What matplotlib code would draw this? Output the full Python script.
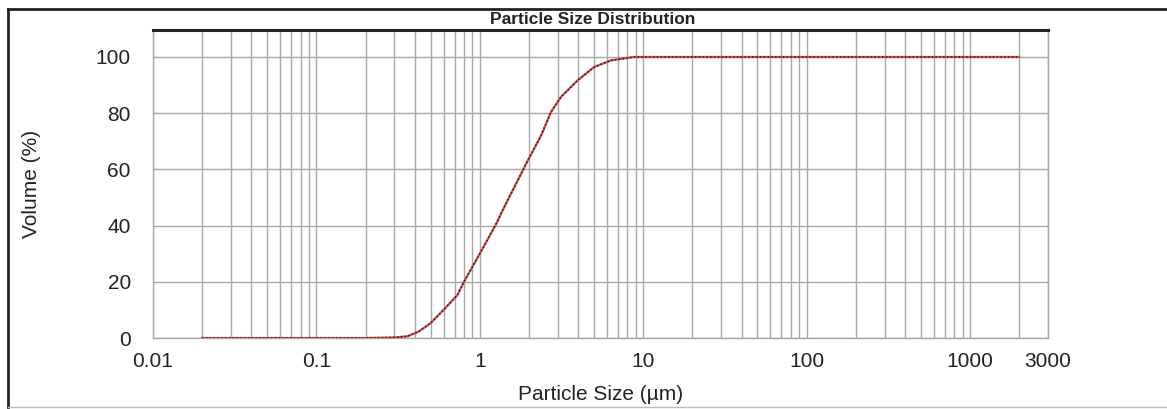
import matplotlib
matplotlib.use("Agg")
import matplotlib.pyplot as plt
from matplotlib.ticker import LogLocator, NullFormatter, FixedLocator, FixedFormatter
from matplotlib.lines import Line2D

# Data
particle_size_um = [0.02, 0.05, 0.1, 0.2, 0.3, 0.36, 0.42, 0.5, 0.6, 0.73, 0.8,
                    1.0, 1.27, 1.38, 1.67, 1.96, 2.37, 2.73, 3.14, 3.97, 5.0,
                    6.36, 8.8, 10, 20, 50, 100, 200, 500, 1000, 2000]
volume_pct = [0, 0, 0, 0, 0.2, 0.6, 2.2, 5.3, 10, 15.3, 20,
              30, 41, 45.5, 55, 63, 72, 80.5, 85.8, 91.7, 96.4,
              98.8, 100, 100, 100, 100, 100, 100, 100, 100, 100]
x_ticks = [0.01, 0.1, 1, 10, 100, 1000, 3000]
x_tick_labels = ["0.01", "0.1", "1", "10", "100", "1000", "3000"]
y_ticks = [0, 20, 40, 60, 80, 100]

plt.rcParams['font.family'] = ['Liberation Sans', 'DejaVu Sans']

fig = plt.figure(figsize=(11.67, 4.09), dpi=100)
W, H = 1167, 409
AX_L, AX_R, AX_T, AX_B = 153, 1048, 30, 338
ax = fig.add_axes([AX_L / W, 1 - AX_B / H, (AX_R - AX_L) / W, (AX_B - AX_T) / H])

ax.plot(particle_size_um, volume_pct, color='#d84a4a', lw=1.6, zorder=3)
ax.plot(particle_size_um, volume_pct, color='#222222', lw=1.1, ls=(0, (1, 1.5)), zorder=4)

ax.set_xscale('log')
ax.set_xlim(0.01, 3000)
ax.set_ylim(0, 109.6)

ax.xaxis.set_major_locator(FixedLocator(x_ticks))
ax.xaxis.set_major_formatter(FixedFormatter(x_tick_labels))
ax.xaxis.set_minor_locator(LogLocator(base=10, subs=[2, 3, 4, 5, 6, 7, 8, 9], numticks=20))
ax.xaxis.set_minor_formatter(NullFormatter())
ax.set_yticks(y_ticks)

ax.grid(True, which='both', axis='x', color='#a8a8a8', lw=1.0)
ax.grid(True, which='major', axis='y', color='#a8a8a8', lw=1.0)
ax.tick_params(which='both', length=0)
ax.tick_params(axis='x', labelsize=15, pad=10, colors='#222222')
ax.tick_params(axis='y', labelsize=15, pad=16, colors='#222222')

for s in ['left', 'bottom', 'right']:
    ax.spines[s].set_color('#a8a8a8')
    ax.spines[s].set_linewidth(1.0)
ax.spines['top'].set_color('#222222')
ax.spines['top'].set_linewidth(2.2)

ax.set_xlabel('Particle Size (µm)', fontsize=15, color='#222222', labelpad=10)
ax.set_ylabel('Volume (%)', fontsize=15, color='#222222')
ax.yaxis.set_label_coords((41 - AX_L) / (AX_R - AX_L), 0.5)

fig.text(593 / W, 1 - 19.5 / H, 'Particle Size Distribution', ha='center', va='center',
         fontsize=12.5, fontweight='bold', color='#222222')

# Outer frame
fig.add_artist(Line2D([8 / W, 1.0], [1 - 9 / H, 1 - 9 / H], color='#222222', lw=2.0))
fig.add_artist(Line2D([8 / W, 8 / W], [1 - 9 / H, 1 - 407 / H], color='#222222', lw=2.0))
fig.add_artist(Line2D([8 / W, 1.0], [1 - 407 / H, 1 - 407 / H], color='#bbbbbb', lw=1.0))

fig.savefig('out.png', dpi=100)
